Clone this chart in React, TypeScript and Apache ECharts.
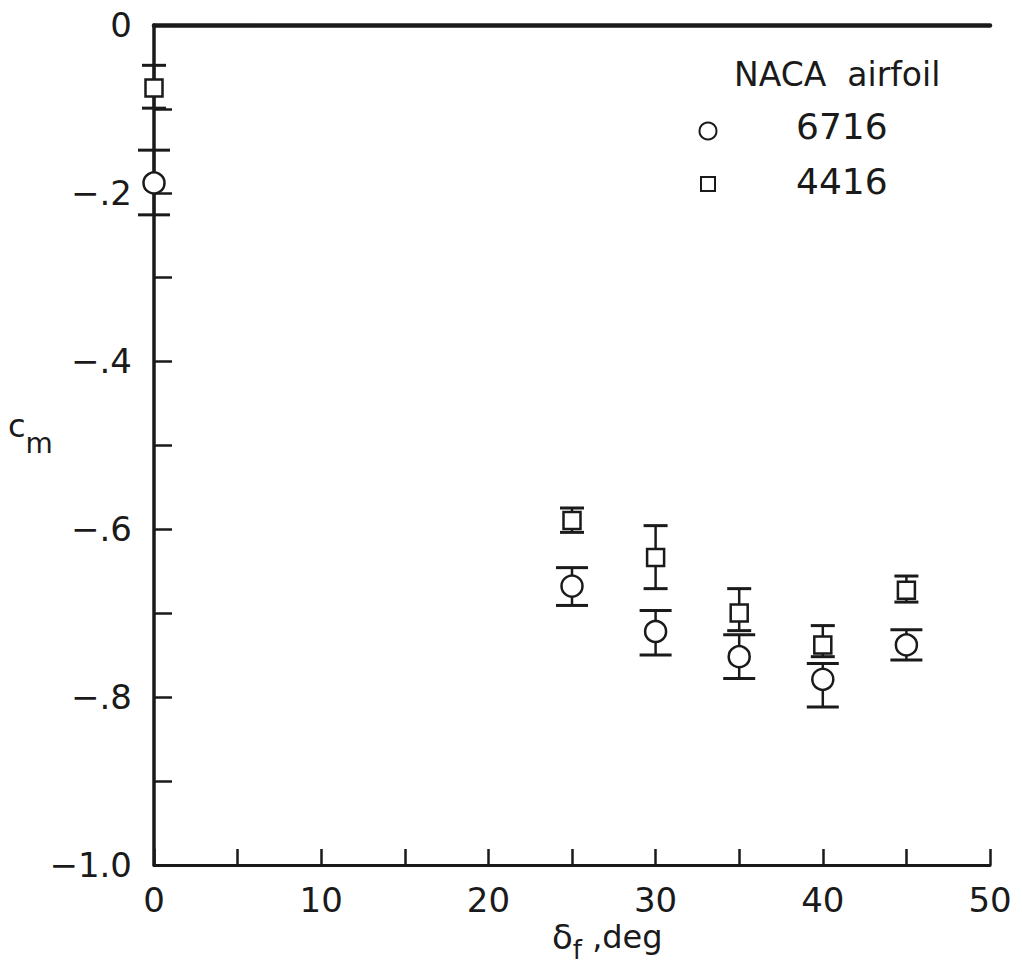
import React, { useEffect, useRef } from "react";
import * as echarts from "echarts";

const angles = [0, 25, 30, 35, 40, 45];
const cm6716 = [-0.188, -0.668, -0.722, -0.752, -0.779, -0.738];
const hi6716 = [-0.149, -0.646, -0.697, -0.726, -0.76, -0.72];
const lo6716 = [-0.226, -0.691, -0.75, -0.778, -0.812, -0.756];
const cm4416 = [-0.075, -0.59, -0.634, -0.7, -0.738, -0.673];
const hi4416 = [-0.048, -0.575, -0.596, -0.671, -0.715, -0.656];
const lo4416 = [-0.099, -0.604, -0.671, -0.721, -0.752, -0.687];
const legendTitle = "NACA  airfoil";
const seriesNames = ["6716", "4416"];

const INK = "#1a1a1a";
const FONT = "DejaVu Sans";

function errorSeries(lo: number[], hi: number[], halfCap: number) {
  return {
    type: "custom",
    z: 3,
    data: angles.map((a, i) => [a, lo[i], hi[i]]),
    renderItem: (params: any, api: any) => {
      const x = api.value(0);
      const p1 = api.coord([x, api.value(1)]);
      const p2 = api.coord([x, api.value(2)]);
      const st = { stroke: INK, lineWidth: 2.5 };
      return {
        type: "group",
        children: [
          { type: "line", shape: { x1: p1[0], y1: p1[1], x2: p2[0], y2: p2[1] }, style: st },
          { type: "line", shape: { x1: p1[0] - halfCap, y1: p1[1], x2: p1[0] + halfCap, y2: p1[1] }, style: { stroke: INK, lineWidth: 3 } },
          { type: "line", shape: { x1: p2[0] - halfCap, y1: p2[1], x2: p2[0] + halfCap, y2: p2[1] }, style: { stroke: INK, lineWidth: 3 } },
        ],
      };
    },
  };
}

export default function App() {
  const ref = useRef<HTMLDivElement>(null);
  useEffect(() => {
    const chart = echarts.init(ref.current!, null, { renderer: "svg" });
    chart.setOption({
      animation: false,
      backgroundColor: "#ffffff",
      grid: { left: 154, right: 32, top: 25, bottom: 105 },
      xAxis: [
        {
          type: "value",
          min: 0,
          max: 50,
          interval: 5,
          axisLine: { show: true, onZero: false, lineStyle: { color: INK, width: 3 } },
          axisTick: { show: true, inside: true, length: 16, lineStyle: { color: INK, width: 2.5 } },
          splitLine: { show: false },
          axisLabel: {
            color: INK,
            fontFamily: FONT,
            fontSize: 34,
            margin: 18,
            formatter: (v: number) => (Math.round(v) % 10 === 0 ? String(Math.round(v)) : ""),
          },
        },
        {
          type: "value",
          position: "top",
          min: 0,
          max: 50,
          axisLine: { show: true, onZero: false, lineStyle: { color: INK, width: 4.5 } },
          axisTick: { show: false },
          axisLabel: { show: false },
          splitLine: { show: false },
        },
      ],
      yAxis: {
        type: "value",
        min: -1,
        max: 0,
        interval: 0.1,
        axisLine: { show: true, onZero: false, lineStyle: { color: INK, width: 3.5 } },
        axisTick: { show: true, inside: true, length: 18, lineStyle: { color: INK, width: 2.5 } },
        splitLine: { show: false },
        axisLabel: {
          color: INK,
          fontFamily: FONT,
          fontSize: 34,
          margin: 22,
          formatter: (v: number) => {
            const t = Math.round(v * 10);
            if (t % 2 !== 0) return "";
            if (t === 0) return "0";
            if (t === -10) return "\u22121.0";
            return "\u2212." + String(Math.abs(t));
          },
        },
      },
      graphic: [
        {
          type: "text",
          left: 8,
          top: 410,
          style: {
            text: "{c|c}{m|m}",
            fill: INK,
            rich: {
              c: { fontFamily: FONT, fontSize: 32, fill: INK },
              m: { fontFamily: FONT, fontSize: 28, fill: INK, padding: [34, 0, 0, 0] },
            },
          },
        },
        {
          type: "text",
          left: 552,
          top: 920,
          style: {
            text: "{d|δ}{f|f}{r| ,deg}",
            fill: INK,
            rich: {
              d: { fontFamily: FONT, fontSize: 34, fill: INK },
              f: { fontFamily: FONT, fontSize: 26, fill: INK, padding: [26, 0, 0, 0] },
              r: { fontFamily: FONT, fontSize: 32, fill: INK },
            },
          },
        },
        {
          type: "text",
          left: 734,
          top: 58,
          style: { text: legendTitle, fontFamily: FONT, fontSize: 33, fill: INK },
        },
        {
          type: "circle",
          shape: { cx: 708, cy: 131, r: 8.5 },
          style: { fill: "#fff", stroke: INK, lineWidth: 2 },
        },
        {
          type: "text",
          left: 796,
          top: 108,
          style: { text: seriesNames[0], fontFamily: FONT, fontSize: 36, fill: INK },
        },
        {
          type: "rect",
          shape: { x: 701, y: 177, width: 14, height: 14 },
          style: { fill: "#fff", stroke: INK, lineWidth: 2 },
        },
        {
          type: "text",
          left: 796,
          top: 163,
          style: { text: seriesNames[1], fontFamily: FONT, fontSize: 36, fill: INK },
        },
      ],
      series: [
        errorSeries(lo6716, hi6716, 16),
        errorSeries(lo4416, hi4416, 12),
        {
          type: "scatter",
          name: seriesNames[0],
          z: 5,
          symbol: "circle",
          symbolSize: 21,
          itemStyle: { color: "#fff", borderColor: INK, borderWidth: 2.5, opacity: 1 },
          data: angles.map((a, i) => [a, cm6716[i]]),
        },
        {
          type: "scatter",
          name: seriesNames[1],
          z: 5,
          symbol: "rect",
          symbolSize: 17,
          itemStyle: { color: "#fff", borderColor: INK, borderWidth: 2.5, opacity: 1 },
          data: angles.map((a, i) => [a, cm4416[i]]),
        },
      ],
    });
    return () => chart.dispose();
  }, []);
  return (
    <div
      ref={ref}
      style={{ position: "fixed", left: 0, top: 0, width: 1022, height: 970, background: "#fff" }}
    />
  );
}
